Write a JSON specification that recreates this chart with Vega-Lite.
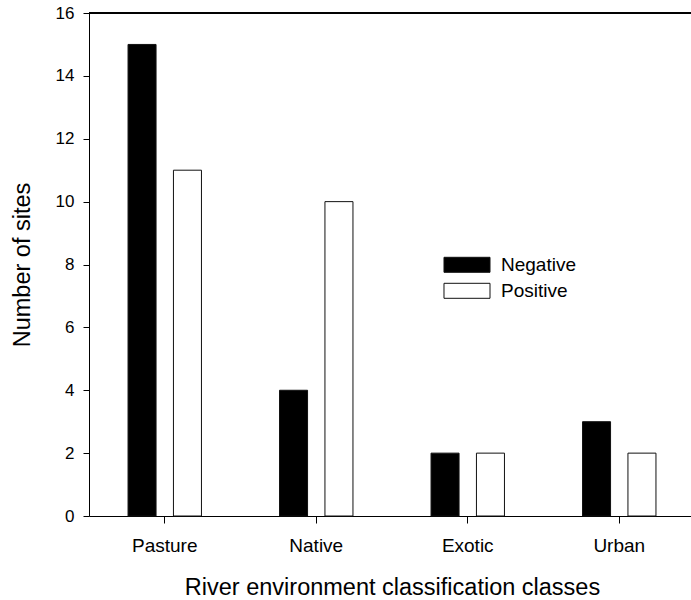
{
  "$schema": "https://vega.github.io/schema/vega-lite/v6.json",
  "width": 602,
  "height": 503,
  "padding": {"left": 89, "top": 13, "right": 0, "bottom": 84},
  "autosize": {"type": "none"},
  "background": "white",
  "view": {"stroke": null},
  "config": {"font": "Liberation Sans"},
  "data": {
    "values": [
      {"class": "Pasture", "sign": "Negative", "count": 15},
      {"class": "Pasture", "sign": "Positive", "count": 11},
      {"class": "Native", "sign": "Negative", "count": 4},
      {"class": "Native", "sign": "Positive", "count": 10},
      {"class": "Exotic", "sign": "Negative", "count": 2},
      {"class": "Exotic", "sign": "Positive", "count": 2},
      {"class": "Urban", "sign": "Negative", "count": 3},
      {"class": "Urban", "sign": "Positive", "count": 2}
    ]
  },
  "layer": [
    {
      "mark": {"type": "bar", "stroke": "#111", "strokeWidth": 1},
      "encoding": {
        "x": {
          "field": "class",
          "type": "nominal",
          "sort": ["Pasture", "Native", "Exotic", "Urban"],
          "scale": {"paddingInner": 0, "paddingOuter": 0, "range": [0, 606]},
          "axis": {
            "title": "River environment classification classes",
            "labelAngle": 0,
            "labelFontSize": 19,
            "labelColor": "black",
            "labelPadding": 13,
            "tickSize": 7,
            "tickColor": "black",
            "domainColor": "black",
            "titleFontSize": 23.5,
            "titleFontWeight": "normal",
            "titleColor": "black",
            "titlePadding": 20
          }
        },
        "xOffset": {
          "field": "sign",
          "type": "nominal",
          "sort": ["Negative", "Positive"],
          "scale": {"paddingInner": 0.383, "paddingOuter": 0.86}
        },
        "y": {
          "field": "count",
          "type": "quantitative",
          "scale": {"domain": [0, 16]},
          "axis": {
            "title": "Number of sites",
            "values": [0, 2, 4, 6, 8, 10, 12, 14, 16],
            "grid": false,
            "labelFontSize": 17,
            "labelColor": "black",
            "labelPadding": 9,
            "tickSize": 6,
            "tickColor": "black",
            "domainColor": "black",
            "titleFontSize": 23.5,
            "titleFontWeight": "normal",
            "titleColor": "black",
            "titlePadding": 21
          }
        },
        "fill": {
          "field": "sign",
          "type": "nominal",
          "scale": {"domain": ["Negative", "Positive"], "range": ["black", "white"]},
          "legend": {
            "orient": "none",
            "legendX": 368.5,
            "legendY": 242.3,
            "title": null,
            "symbolType": "M-3.067,-1H3.067V1H-3.067Z",
            "symbolSize": 225,
            "symbolStrokeColor": "#111",
            "symbolStrokeWidth": 1,
            "labelFontSize": 19,
            "labelColor": "black",
            "labelOffset": 24.5,
            "rowPadding": 6,
            "padding": 0,
            "symbolOffset": 0
          }
        }
      }
    },
    {
      "mark": {"type": "rule", "color": "black", "strokeWidth": 1},
      "encoding": {"y": {"datum": 16}}
    }
  ]
}
